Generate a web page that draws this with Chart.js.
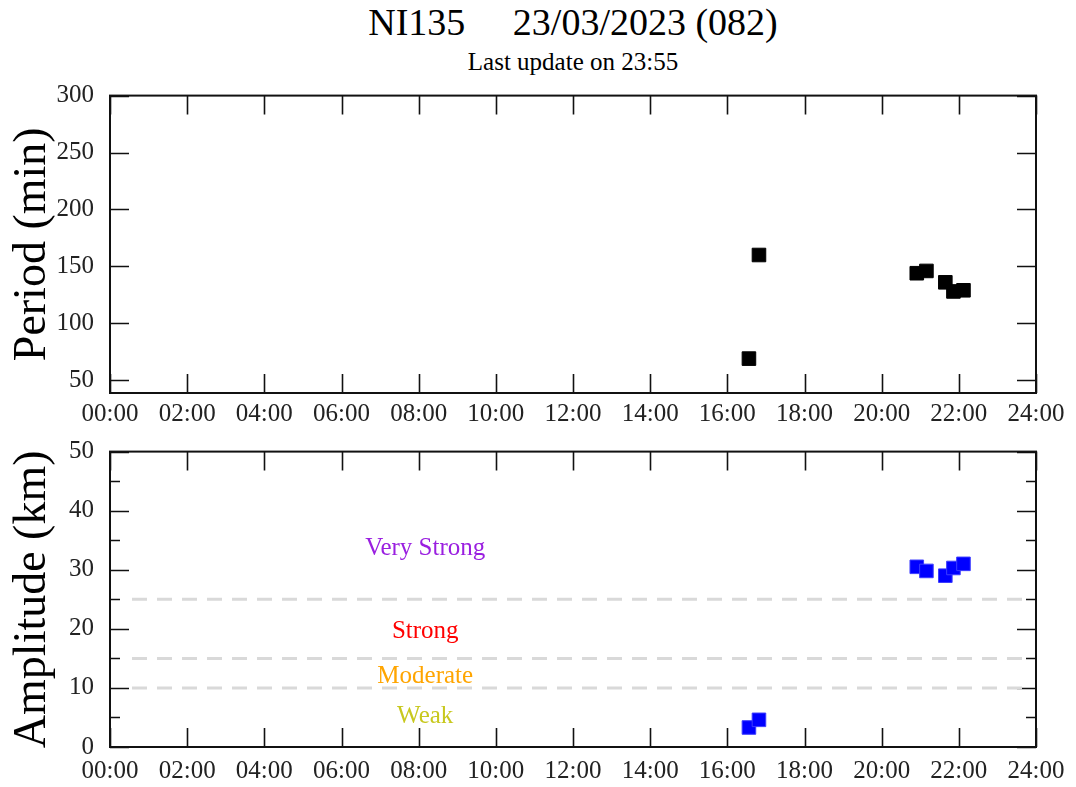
<!DOCTYPE html>
<html>
<head>
<meta charset="utf-8">
<script src="https://cdn.jsdelivr.net/npm/chart.js@4.4.1/dist/chart.umd.min.js"></script>
<style>
    body { margin: 0; background: #fff; width: 1076px; height: 787px; position: relative; overflow: hidden; font-family: "Liberation Serif", serif; }
    .head { position: absolute; left: 110px; width: 926px; text-align: center; white-space: pre; color: #000; }
    #title { top: 0; font-size: 38px; line-height: 44px; }
    #subtitle { top: 47px; font-size: 25px; line-height: 30px; }
    .box { position: absolute; left: 0; width: 1076px; }
    #box-period { top: 85px; height: 345px; }
    #box-amp { top: 441px; height: 346px; }
</style>
</head>
<body>
<div id="title" class="head">NI135     23/03/2023 (082)</div>
<div id="subtitle" class="head">Last update on 23:55</div>
<div id="box-period" class="box"><canvas id="periodChart"></canvas></div>
<div id="box-amp" class="box"><canvas id="ampChart"></canvas></div>
<script>
// hours of day (decimal) for each detection
const eventHours = [16.56, 16.82, 20.91, 21.16, 21.65, 21.86, 22.12];
const periodValues = [69, 160, 144, 146, 136, 128, 129];
const amplitudeValues = [3.3, 4.6, 30.5, 29.8, 29.0, 30.3, 31.0];

const hourTicks = [0, 2, 4, 6, 8, 10, 12, 14, 16, 18, 20, 22, 24];
const periodTicks = [50, 100, 150, 200, 250, 300];
const amplitudeTicks = [0, 10, 20, 30, 40, 50];
const amplitudeMinorTicks = [5, 15, 25, 35, 45];

// intensity thresholds and class labels
const thresholds = [10, 15, 25];
const thresholdSpan = [0.57, 23.74];
const levelNames = ['Very Strong', 'Strong', 'Moderate', 'Weak'];
const levelColors = ['#9a1fe0', '#ff0000', '#ffa500', '#c8c81e'];
const levelValues = [33.6, 19.6, 12.0, 5.2];
const levelHour = 8.17;

const serif = '"Liberation Serif", serif';

function hourLabel(v) {
    return `${String(v).padStart(2, '0')}:00`;
}

// inward ticks on all four sides + frame, like the original plot
const frameTicks = {
    id: 'frameTicks',
    beforeDatasetsDraw(chart, args, opts) {
        const { ctx, chartArea: a, scales: { x, y } } = chart;
        ctx.save();
        ctx.strokeStyle = '#111';
        ctx.lineWidth = 1.6;
        ctx.beginPath();
        x.ticks.forEach(t => {
            const px = Math.round(x.getPixelForValue(t.value)) + 0.5;
            ctx.moveTo(px, a.bottom); ctx.lineTo(px, a.bottom - 19);
            ctx.moveTo(px, a.top); ctx.lineTo(px, a.top + 19);
        });
        y.ticks.forEach(t => {
            const py = Math.round(y.getPixelForValue(t.value)) + 0.5;
            ctx.moveTo(a.left, py); ctx.lineTo(a.left + 19, py);
            ctx.moveTo(a.right, py); ctx.lineTo(a.right - 19, py);
        });
        (opts.minorY || []).forEach(v => {
            const py = Math.round(y.getPixelForValue(v)) + 0.5;
            ctx.moveTo(a.left, py); ctx.lineTo(a.left + 10, py);
            ctx.moveTo(a.right, py); ctx.lineTo(a.right - 10, py);
        });
        ctx.stroke();
        ctx.lineWidth = 2;
        ctx.strokeRect(a.left, a.top, a.width, a.height);
        ctx.restore();
    }
};

const levelText = {
    id: 'levelText',
    afterDatasetsDraw(chart, args, opts) {
        if (!opts.names) return;
        const { ctx, scales: { x, y } } = chart;
        ctx.save();
        ctx.font = `25px ${serif}`;
        ctx.textAlign = 'center';
        ctx.textBaseline = 'middle';
        opts.names.forEach((name, i) => {
            ctx.fillStyle = opts.colors[i];
            ctx.fillText(name, x.getPixelForValue(opts.hour), y.getPixelForValue(opts.values[i]));
        });
        ctx.restore();
    }
};

function makeOptions(yMin, yMax, yTicks, yTitle, xHeight, labelPad, pluginOpts) {
    return {
        responsive: true,
        maintainAspectRatio: false,
        animation: false,
        devicePixelRatio: 1,
        layout: { padding: { top: 6, right: 40, left: 0, bottom: 0 } },
        plugins: {
            legend: { display: false },
            tooltip: { enabled: false },
            frameTicks: pluginOpts.frame,
            levelText: pluginOpts.levels
        },
        scales: {
            x: {
                type: 'linear',
                min: 0, max: 24,
                afterBuildTicks: s => { s.ticks = hourTicks.map(v => ({ value: v })); },
                afterFit: s => { s.height = xHeight; },
                grid: { display: false },
                border: { display: false },
                ticks: { color: '#222', padding: labelPad, maxRotation: 0, font: { family: serif, size: 25 }, callback: v => hourLabel(v) }
            },
            y: {
                min: yMin, max: yMax,
                afterBuildTicks: s => { s.ticks = yTicks.map(v => ({ value: v })); },
                afterFit: s => { s.width = 110; s.paddingTop = 0; s.paddingBottom = 0; },
                grid: { display: false },
                border: { display: false },
                ticks: { color: '#222', padding: 8, font: { family: serif, size: 25 } },
                title: { display: true, text: yTitle, color: '#000', padding: { top: 5, bottom: 0 }, font: { family: serif, size: 46 } }
            }
        }
    };
}

Chart.register(frameTicks, levelText);

new Chart(document.getElementById('periodChart').getContext('2d'), {
    type: 'scatter',
    data: {
        datasets: [{
            data: eventHours.map((h, i) => ({ x: h, y: periodValues[i] })),
            pointStyle: 'rect',
            pointRadius: 9.6,
            pointBackgroundColor: '#000',
            pointBorderColor: '#000',
            pointBorderWidth: 1
        }]
    },
    options: makeOptions(38.8, 300, periodTicks, 'Period (min)', 37, -2, { frame: {}, levels: {} })
});

const thresholdSets = thresholds.map(v => ({
    data: thresholdSpan.map(h => ({ x: h, y: v })),
    showLine: true,
    borderColor: '#d9d9d9',
    borderWidth: 3,
    borderDash: [15, 10],
    pointRadius: 0,
    order: 2
}));

new Chart(document.getElementById('ampChart').getContext('2d'), {
    type: 'scatter',
    data: {
        datasets: [{
            data: eventHours.map((h, i) => ({ x: h, y: amplitudeValues[i] })),
            pointStyle: 'rect',
            pointRadius: 9.6,
            pointBackgroundColor: '#0000ff',
            pointBorderColor: '#3c3cff',
            pointBorderWidth: 1,
            order: 1
        }, ...thresholdSets]
    },
    options: makeOptions(0, 50, amplitudeTicks, 'Amplitude (km)', 40, 1, {
        frame: { minorY: amplitudeMinorTicks },
        levels: { names: levelNames, colors: levelColors, values: levelValues, hour: levelHour }
    })
});
</script>
</body>
</html>
